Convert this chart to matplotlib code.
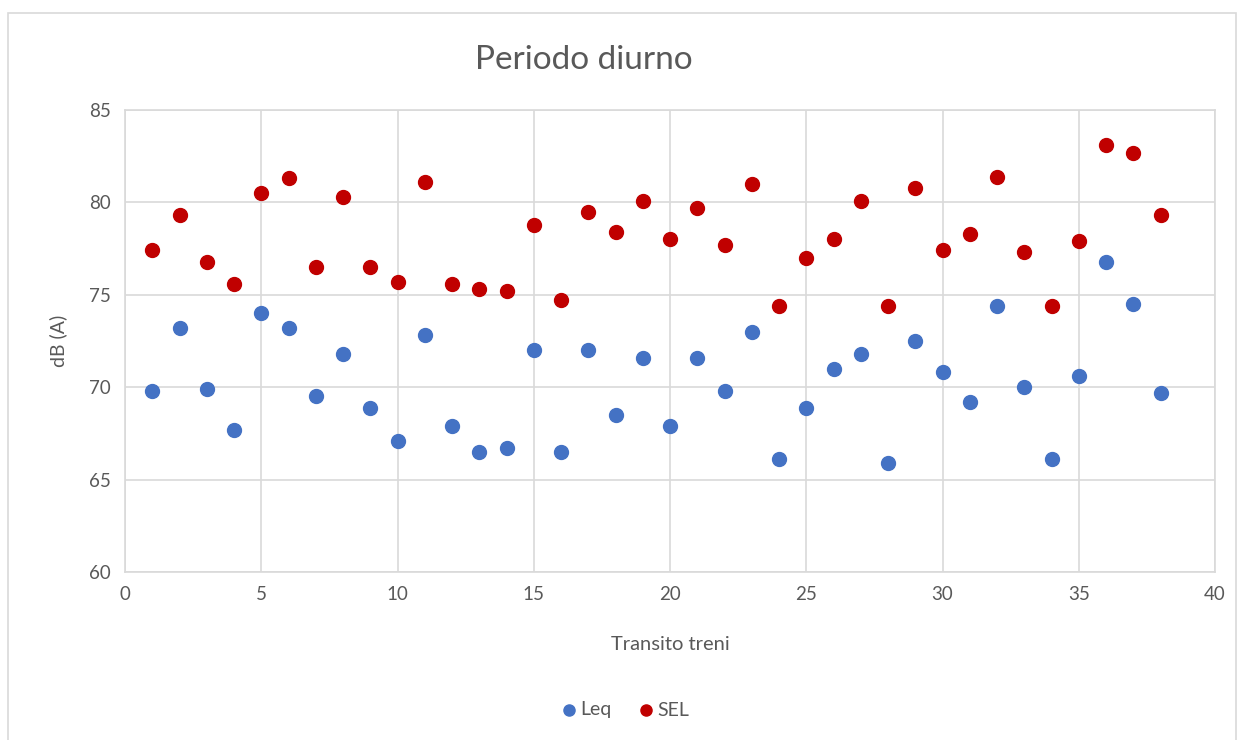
import matplotlib.pyplot as plt
from matplotlib.patches import Rectangle

transiti = list(range(1, 39))
leq = [69.8, 73.2, 69.9, 67.7, 74.0, 73.2, 69.5, 71.8, 68.9, 67.1,
       72.8, 67.9, 66.5, 66.7, 72.0, 66.5, 72.0, 68.5, 71.6, 67.9,
       71.6, 69.8, 73.0, 66.1, 68.9, 71.0, 71.8, 65.9, 72.5, 70.8,
       69.2, 74.4, 70.0, 66.1, 70.6, 76.8, 74.5, 69.7]
sel = [77.4, 79.3, 76.8, 75.6, 80.5, 81.3, 76.5, 80.3, 76.5, 75.7,
       81.1, 75.6, 75.3, 75.2, 78.8, 74.7, 79.5, 78.4, 80.1, 78.0,
       79.7, 77.7, 81.0, 74.4, 77.0, 78.0, 80.1, 74.4, 80.8, 77.4,
       78.3, 81.4, 77.3, 74.4, 77.9, 83.1, 82.7, 79.3]

plt.rcParams['font.family'] = ['Lato', 'DejaVu Sans']
grigio = '#595959'

fig = plt.figure(figsize=(12.42, 7.40), dpi=100)
ax = fig.add_axes([125 / 1242, 1 - 572 / 740, 1090 / 1242, 462 / 740])

ax.scatter(transiti, leq, s=100, color='#4472C4', label='Leq', zorder=3)
ax.scatter(transiti, sel, s=100, color='#C00000', label='SEL', zorder=3)

ax.set_xlim(0, 40)
ax.set_ylim(60, 85)
ax.set_xticks(range(0, 41, 5))
ax.set_yticks(range(60, 86, 5))
ax.grid(True, color='#D9D9D9', linewidth=1.2)
ax.set_axisbelow(True)
for sp in ax.spines.values():
    sp.set_color('#D9D9D9')
    sp.set_linewidth(1.2)
ax.tick_params(length=0, labelsize=13.5, labelcolor=grigio, pad=10)

ax.set_xlabel('Transito treni', fontsize=14.5, color=grigio, labelpad=24)
ax.set_ylabel('dB (A)', fontsize=14, color=grigio, labelpad=16)

fig.text(584 / 1242, 1 - 60 / 740, 'Periodo diurno', fontsize=24,
         color=grigio, ha='center', va='center')

fig.legend(loc='center', bbox_to_anchor=(622 / 1242, 1 - 710 / 740), ncol=2,
           frameon=False, fontsize=14, labelcolor=grigio, handletextpad=-0.15,
           columnspacing=1.0, markerscale=0.8, handlelength=1.5)

fig.patches.append(Rectangle((8 / 1242, -0.01), 1228 / 1242, 1 - 13 / 740 + 0.01,
                             transform=fig.transFigure, fill=False,
                             edgecolor='#D9D9D9', linewidth=1.2))

fig.savefig('out.png', dpi=100, facecolor='white')
